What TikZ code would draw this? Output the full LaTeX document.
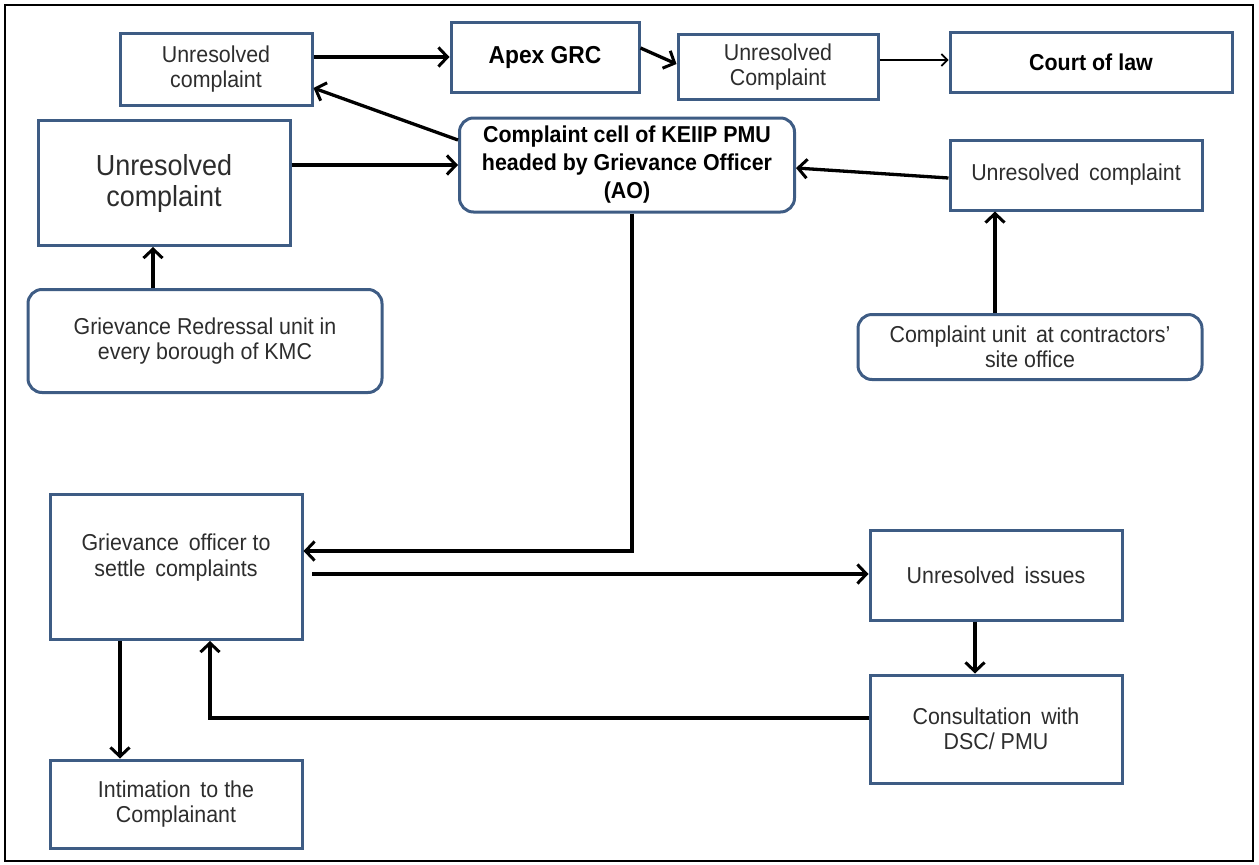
\documentclass[tikz,border=0pt]{standalone}
\usepackage{fontspec}
\setmainfont[FakeStretch=0.93]{Liberation Sans}
\usetikzlibrary{arrows.meta}
\definecolor{boxblue}{RGB}{62,92,132}
\definecolor{txt}{RGB}{45,45,45}
\tikzset{
  box/.style={draw=boxblue, line width=3pt, fill=white, align=center, inner sep=2pt, font=\fontsize{23}{25.5}\selectfont, text=txt},
  rbox/.style={box, rounded corners=14pt},
  conn/.style={draw=black, line width=3.3pt, -{Straight Barb[length=9pt,width=19pt,line width=3pt]}},
  thin/.style={draw=black, line width=1.6pt, -{Straight Barb[length=6pt,width=12pt,line width=1.6pt]}}
}
\begin{document}
\begin{tikzpicture}[x=1pt,y=-1pt]
\useasboundingbox (0,0) rectangle (1259,865);
\draw[line width=2pt] (5,5) rectangle (1253,861);

\node[box, minimum width=192pt, minimum height=72pt] (uc1) at (216,69) {Unresolved\\complaint};
\node[box, minimum width=188pt, minimum height=70pt, font=\fontsize{24.5}{27}\selectfont\bfseries, text=black] (apex) at (545,57) {Apex GRC};
\node[box, minimum width=200pt, minimum height=65pt] (uc2) at (778,67) {Unresolved\\Complaint};
\node[box, minimum width=282pt, minimum height=60pt, font=\fontsize{23}{26}\selectfont\bfseries, text=black] (court) at (1091,62) {Court of law};

\node[rbox, minimum width=335pt, minimum height=94pt, font=\fontsize{23}{28}\selectfont\bfseries, text=black] (cell) at (627,165) {Complaint cell of KEIIP PMU\\headed by Grievance Officer\\(AO)};
\node[box, minimum width=252pt, minimum height=125pt, font=\fontsize{29}{31}\selectfont] (ucL) at (164,183) {Unresolved\\complaint};
\node[box, minimum width=252pt, minimum height=70pt] (ucR) at (1076,175) {Unresolved\, complaint};

\node[rbox, minimum width=354pt, minimum height=103pt] (gr) at (205,341) {Grievance Redressal unit in\\every borough of KMC};
\node[rbox, minimum width=344pt, minimum height=65pt] (cu) at (1030,347) {Complaint unit\, at contractors'\\site office};

\node[box, minimum width=252pt, minimum height=145pt] (go) at (176,567) {Grievance\, officer to\\settle\, complaints\\[-2pt]\mbox{}};
\node[box, minimum width=252pt, minimum height=90pt] (ui) at (996,575) {Unresolved\, issues};
\node[box, minimum width=252pt, minimum height=108pt] (cons) at (996,729) {Consultation\, with\\DSC/ PMU};
\node[box, minimum width=252pt, minimum height=88pt] (int) at (176,804) {Intimation\, to the\\Complainant};

\draw[conn] (uc1.east |- 0,57) -- (apex.west |- 0,57);
\draw[conn] (apex.east |- 0,48) -- (uc2.west |- 0,64);
\draw[thin] (uc2.east |- 0,60) -- (court.west |- 0,60);
\draw[conn] (cell.west |- 0,140) -- (uc1.east |- 0,88);
\draw[conn] (ucL.east |- 0,165) -- (cell.west |- 0,165);
\draw[conn] (ucR.west |- 0,178) -- (cell.east |- 0,168);
\draw[conn] (gr.north -| 153,0) -- (ucL.south -| 153,0);
\draw[conn] (cu.north -| 995,0) -- (ucR.south -| 995,0);
\draw[conn] (cell.south -| 632,0) -- (632,551) -- (go.east |- 0,551);
\draw[conn] (312,574) -- (ui.west |- 0,574);
\draw[conn] (ui.south -| 975,0) -- (cons.north -| 975,0);
\draw[conn] (cons.west |- 0,718) -- (210,718) -- (go.south -| 210,0);
\draw[conn] (go.south -| 120,0) -- (int.north -| 120,0);
\end{tikzpicture}
\end{document}
